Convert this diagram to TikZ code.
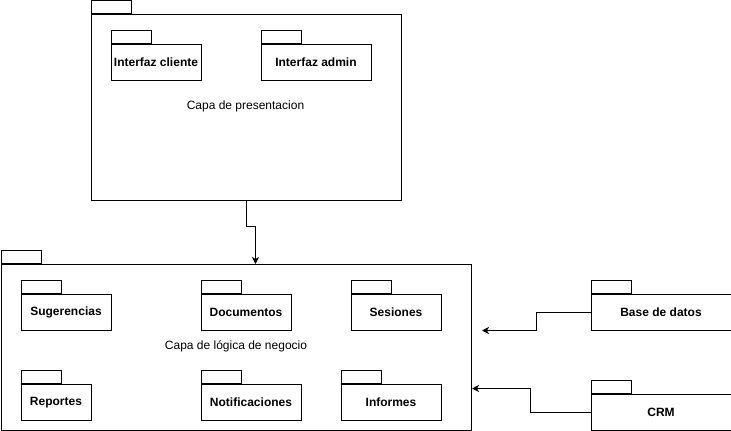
\documentclass[tikz,border=0pt]{standalone}
\usepackage{fontspec}
\setmainfont{Liberation Sans}
\usetikzlibrary{arrows.meta,positioning}

\begin{document}
\begin{tikzpicture}[x=1pt,y=-1pt,line width=1pt,
  layer/.style={draw,rectangle,anchor=north west,inner sep=0pt},
  pkg/.style={draw,rectangle,anchor=north west,inner sep=0pt,minimum height=36pt,font=\fontsize{12}{14}\selectfont\bfseries},
  pkgtab/.style={draw,rectangle,anchor=south west,inner sep=0pt,minimum width=40pt,minimum height=13.5pt},
  lbl/.style={font=\fontsize{12}{14}\selectfont},
  dep/.style={-{Stealth[length=7pt,width=7pt,inset=2pt]}}]
  \useasboundingbox (0,0) rectangle (731,431);

  % capa de presentacion
  \node[layer,minimum width=310pt,minimum height=186pt] (pres) at (90.5,14) {};
  \node[pkgtab] (prestab) at (pres.north west) {};
  \node[lbl] (preslbl) at (245.5,106) {Capa de presentacion};
  \node[pkg,minimum width=90pt] (cliente) at (110.5,44) {Interfaz cliente};
  \node[pkgtab] at (cliente.north west) {};
  \node[pkg,minimum width=110pt] (admin) at (260.5,44) {Interfaz admin};
  \node[pkgtab] at (admin.north west) {};

  % capa de logica de negocio
  \node[layer,minimum width=470pt,minimum height=166pt] (logic) at (1,264) {};
  \node[pkgtab] (logictab) at (logic.north west) {};
  \node[lbl] (logiclbl) at (236,346) {Capa de lógica de negocio};
  \node[pkg,minimum width=90pt] (sug) at (20.5,294) {Sugerencias};
  \node[pkgtab] at (sug.north west) {};
  \node[pkg,minimum width=90pt] (docs) at (200.5,294) {Documentos};
  \node[pkgtab] at (docs.north west) {};
  \node[pkg,minimum width=90pt] (ses) at (350.5,294) {Sesiones};
  \node[pkgtab] at (ses.north west) {};
  \node[pkg,minimum width=70pt] (rep) at (20.5,384) {Reportes};
  \node[pkgtab] at (rep.north west) {};
  \node[pkg,minimum width=100pt] (notif) at (200.5,384) {Notificaciones};
  \node[pkgtab] at (notif.north west) {};
  \node[pkg,minimum width=100pt] (inf) at (340.5,384) {Informes};
  \node[pkgtab] at (inf.north west) {};

  % externos
  \node[pkg,minimum width=140pt] (db) at (590.5,294) {Base de datos};
  \node[pkgtab] at (db.north west) {};
  \node[pkg,minimum width=140pt] (crm) at (590.5,394) {CRM};
  \node[pkgtab] at (crm.north west) {};

  % dependencias
  \coordinate (presIn) at (255.5,264);
  \coordinate (dbIn) at (482,330.5);
  \coordinate (crmIn) at (472,388.5);
  \draw[dep] (pres.south) -- ++(0,25) -| (presIn);
  \draw[dep] (db.west) -- ++(-54,0) |- (dbIn);
  \draw[dep] (crm.west) -- ++(-60,0) |- (crmIn);
\end{tikzpicture}
\end{document}
